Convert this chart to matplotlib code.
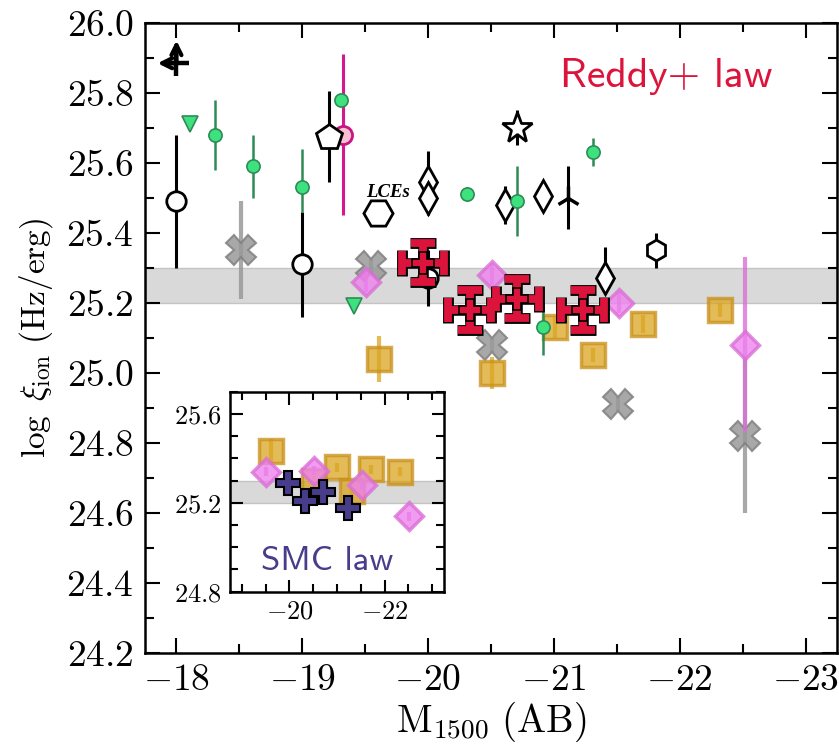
import matplotlib
matplotlib.use('Agg')
import matplotlib.pyplot as plt
from matplotlib.ticker import MultipleLocator, ScalarFormatter

plt.rcParams['font.family'] = 'serif'
plt.rcParams['font.serif'] = ['cmr10']
plt.rcParams['mathtext.fontset'] = 'cm'
plt.rcParams['axes.formatter.use_mathtext'] = True
plt.rcParams['axes.unicode_minus'] = True

# ---------------- data ----------------
# black open circles
circ_x = [-18.0, -19.0, -20.0]
circ_y = [25.49, 25.31, 25.27]
circ_err = [0.19, 0.15, 0.08]

# green circles
grn_x = [-18.31, -18.61, -19.0, -19.31, -20.31, -20.71, -21.31, -20.91]
grn_y = [25.68, 25.59, 25.53, 25.78, 25.51, 25.49, 25.63, 25.13]
grn_elo = [0.10, 0.09, 0.07, 0.0, 0.02, 0.10, 0.04, 0.08]
grn_ehi = [0.10, 0.09, 0.11, 0.0, 0.02, 0.10, 0.04, 0.07]

# green down-triangles
gtri_x = [-18.11, -19.41]
gtri_y = [25.71, 25.19]

# magenta circle
mag_x = [-19.32]
mag_y = [25.68]
mag_err = [0.23]

# pentagon
pent_x = [-19.21]
pent_y = [25.675]
pent_err = [0.13]

# star
star_x = [-20.71]
star_y = [25.70]
star_err = [0.05]

# thin diamonds
tdia_x = [-20.0, -20.0, -20.61, -20.91, -21.41]
tdia_y = [25.545, 25.50, 25.48, 25.505, 25.27]
tdia_elo = [0.09, 0.05, 0.055, 0.0, 0.04]
tdia_ehi = [0.09, 0.05, 0.055, 0.0, 0.09]

# tri_up
tri_x = [-21.11]
tri_y = [25.50]
tri_err = [0.09]

# small hexagon
hex_x = [-21.81]
hex_y = [25.35]
hex_err = [0.05]

# LCE hexagon
lce_x = [-19.60]
lce_y = [25.457]

# lower limit cross (value, arrow lengths in mag / dex)
lim_x = -18.0
lim_y = 25.885
lim_dx = 0.15
lim_dy = 0.065

# Reddy+ law (red)
red_x = [-19.96, -20.33, -20.71, -21.23]
red_y = [25.315, 25.18, 25.212, 25.18]
red_xerr = 0.17
red_yerr = 0.056

# gold squares
gold_x = [-19.61, -20.51, -21.01, -21.31, -21.71, -22.32]
gold_y = [25.04, 25.00, 25.13, 25.05, 25.14, 25.18]
gold_err = [0.065, 0.045, 0.03, 0.02, 0.025, 0.02]

# violet diamonds
vio_x = [-19.51, -20.51, -21.52, -22.52]
vio_y = [25.26, 25.28, 25.20, 25.08]
vio_err = [0.03, 0.03, 0.03, 0.25]

# gray X
gx_x = [-18.51, -19.55, -20.51, -21.51, -22.52]
gx_y = [25.35, 25.305, 25.08, 24.91, 24.82]
gx_err = [0.14, 0.02, 0.02, 0.02, 0.22]

# inset (SMC law)
in_gold_y = [25.435, 25.30, 25.36, 25.255, 25.35, 25.34]
in_gold_err = [0.05, 0.02, 0.02, 0.02, 0.02, 0.02]
in_vio_y = [25.34, 25.345, 25.28, 25.14]
in_smc_y = [25.29, 25.21, 25.25, 25.175]

band = (25.2, 25.3)

# ---------------- figure ----------------
fig = plt.figure(figsize=(8.39, 7.51), dpi=100)
ax = fig.add_axes([0.1728, 0.1305, 0.8248, 0.8389])

GOLD = '#daa520'
GOLD_E = '#c8901a'
VIO = '#ee82ee'
VIO_E = '#da70d6'
GRN = '#3de27f'
GRN_E = '#2e8b57'
CRIM = '#dc143c'


def common_axes(a, lab_size, majlen, minlen, pad):
    a.tick_params(which='both', direction='in', top=True, right=True,
                  width=1.5, labelsize=lab_size, pad=pad)
    a.tick_params(which='major', length=majlen)
    a.tick_params(which='minor', length=minlen)
    for s in a.spines.values():
        s.set_linewidth(1.8)


ax.axhspan(band[0], band[1], facecolor='#d9d9d9', edgecolor='#c4c4c4', lw=1, zorder=0.5)

# gray X
ax.errorbar(gx_x, gx_y, yerr=gx_err, fmt='X', ms=21, mfc='#999999', mec='#808080',
            mew=1.5, ecolor='#999999', elinewidth=3, alpha=0.85, zorder=2)
# gold squares
ax.errorbar(gold_x, gold_y, yerr=gold_err, fmt='s', ms=17, mfc=GOLD, mec=GOLD_E, mew=2.5,
            ecolor=GOLD, elinewidth=3, alpha=0.75, zorder=3)
# violet diamonds
ax.errorbar(vio_x, vio_y, yerr=vio_err, fmt='D', ms=14.5, mfc=VIO, mec=VIO_E, mew=2.5,
            ecolor=VIO_E, elinewidth=3, alpha=0.8, zorder=4)

# magenta circle
ax.errorbar(mag_x, mag_y, yerr=mag_err, fmt='o', ms=13, mfc='#f7c0cf', mec='#c71585',
            mew=2, ecolor='#d6188f', elinewidth=2.2, zorder=4.5)

# black open circles
ax.errorbar(circ_x, circ_y, yerr=circ_err, fmt='o', ms=14, mfc='white', mec='k', mew=2,
            ecolor='k', elinewidth=2.2, zorder=5)
# green circles
ax.errorbar(grn_x, grn_y, yerr=[grn_elo, grn_ehi], fmt='o', ms=9.5, mfc=GRN, mec=GRN_E,
            mew=1.2, ecolor=GRN_E, elinewidth=1.8, zorder=5.2)
# green triangles
ax.plot(gtri_x, gtri_y, 'v', ms=12, mfc=GRN, mec=GRN_E, mew=1.2, zorder=5.2)
# pentagon
ax.errorbar(pent_x, pent_y, yerr=pent_err, fmt='p', ms=19, mfc='white', mec='k', mew=2,
            ecolor='k', elinewidth=2.2, zorder=5.1)
# star
ax.errorbar(star_x, star_y, yerr=star_err, fmt='*', ms=23, mfc='white', mec='k', mew=2,
            ecolor='k', elinewidth=2.2, zorder=5)
# thin diamonds
ax.errorbar(tdia_x, tdia_y, yerr=[tdia_elo, tdia_ehi], fmt='d', ms=16, mfc='white', mec='k',
            mew=2, ecolor='k', elinewidth=2.2, zorder=5)
# tri up
ax.errorbar(tri_x, tri_y, yerr=tri_err, fmt='2', ms=18, mec='k', mew=2.5,
            ecolor='k', elinewidth=2.2, zorder=5)
# small hexagon
ax.errorbar(hex_x, hex_y, yerr=hex_err, fmt='h', ms=15, mfc='white', mec='k', mew=2,
            ecolor='k', elinewidth=2.2, zorder=5)
# LCE hexagon
ax.plot(lce_x, lce_y, 'H', ms=21, mfc='white', mec='k', mew=2, zorder=5)
ax.text(-19.68, 25.515, 'LCEs', family='Liberation Serif', fontweight='bold',
        fontstyle='italic', fontsize=13.5, ha='center', va='center', zorder=6)
# lower-limit cross with arrows
ax.plot([lim_x], [lim_y], '+', ms=18, mew=3.2, color='k', zorder=5)
arr = dict(arrowstyle='->', lw=3, color='k', mutation_scale=18, shrinkA=0, shrinkB=0)
ax.annotate('', xy=(lim_x + lim_dx, lim_y), xytext=(lim_x, lim_y), arrowprops=arr, zorder=5)
ax.annotate('', xy=(lim_x, lim_y + lim_dy), xytext=(lim_x, lim_y), arrowprops=arr, zorder=5)

# Reddy+ law red crosses (black outline via double draw)
ax.errorbar(red_x, red_y, xerr=red_xerr, yerr=red_yerr, fmt='none', ecolor='k',
            elinewidth=7.6, capsize=9.3, capthick=7.8, zorder=6)
ax.errorbar(red_x, red_y, xerr=red_xerr, yerr=red_yerr, fmt='none', ecolor=CRIM,
            elinewidth=5.6, capsize=8.7, capthick=5.6, zorder=6.1)
ax.plot(red_x, red_y, 'P', ms=16, mfc=CRIM, mec='k', mew=1.2, zorder=6.2)

ax.text(0.753, 0.899, 'Reddy+ law', transform=ax.transAxes, family='cmss10',
        fontsize=30, color=CRIM, ha='center', va='baseline')

ax.set_xlim(-17.75, -23.25)
ax.set_ylim(24.2, 26.0)
ax.xaxis.set_major_locator(MultipleLocator(1))
ax.xaxis.set_minor_locator(MultipleLocator(0.5))
ax.yaxis.set_major_locator(MultipleLocator(0.2))
ax.yaxis.set_minor_locator(MultipleLocator(0.1))
ax.yaxis.set_major_formatter(ScalarFormatter(useOffset=False, useMathText=True))
ax.xaxis.set_major_formatter(ScalarFormatter(useOffset=False, useMathText=True))
common_axes(ax, 27, 11, 6.5, 8)
ax.set_xlabel(r'$\mathrm{M}_{1500}\ (\mathrm{AB})$', fontsize=28, labelpad=2)
ax.set_ylabel(r'$\log\ \xi_{\rm ion}\ ({\rm Hz/erg})$', fontsize=24, labelpad=8)

# ---------------- inset ----------------
axi = fig.add_axes([0.2741, 0.2121, 0.2551, 0.2663])
axi.axhspan(band[0], band[1], facecolor='#d9d9d9', edgecolor='#c4c4c4', lw=1, zorder=0.5)
axi.errorbar(gold_x, in_gold_y, yerr=in_gold_err, fmt='s', ms=17, mfc=GOLD, mec=GOLD_E,
             mew=2.5, ecolor=GOLD, elinewidth=3, alpha=0.75, zorder=3)
axi.errorbar(vio_x, in_vio_y, yerr=0.02, fmt='D', ms=14.5, mfc=VIO, mec=VIO_E, mew=2.5,
             ecolor=VIO_E, elinewidth=3, alpha=0.8, zorder=4)
axi.plot(red_x, in_smc_y, 'P', ms=17, mfc='#483d8b', mec='k', mew=1.5, zorder=5)
axi.text(0.453, 0.108, 'SMC law', transform=axi.transAxes, family='cmss10',
         fontsize=25, color='#483d8b', ha='center', va='baseline')
axi.set_xlim(-18.75, -23.25)
axi.set_ylim(24.8, 25.7)
axi.xaxis.set_major_locator(MultipleLocator(2))
axi.xaxis.set_minor_locator(MultipleLocator(0.5))
axi.yaxis.set_major_locator(MultipleLocator(0.4))
axi.yaxis.set_minor_locator(MultipleLocator(0.1))
axi.yaxis.set_major_formatter(ScalarFormatter(useOffset=False, useMathText=True))
axi.xaxis.set_major_formatter(ScalarFormatter(useOffset=False, useMathText=True))
common_axes(axi, 19, 9, 6, 6)

fig.savefig('out.png', dpi=100)
